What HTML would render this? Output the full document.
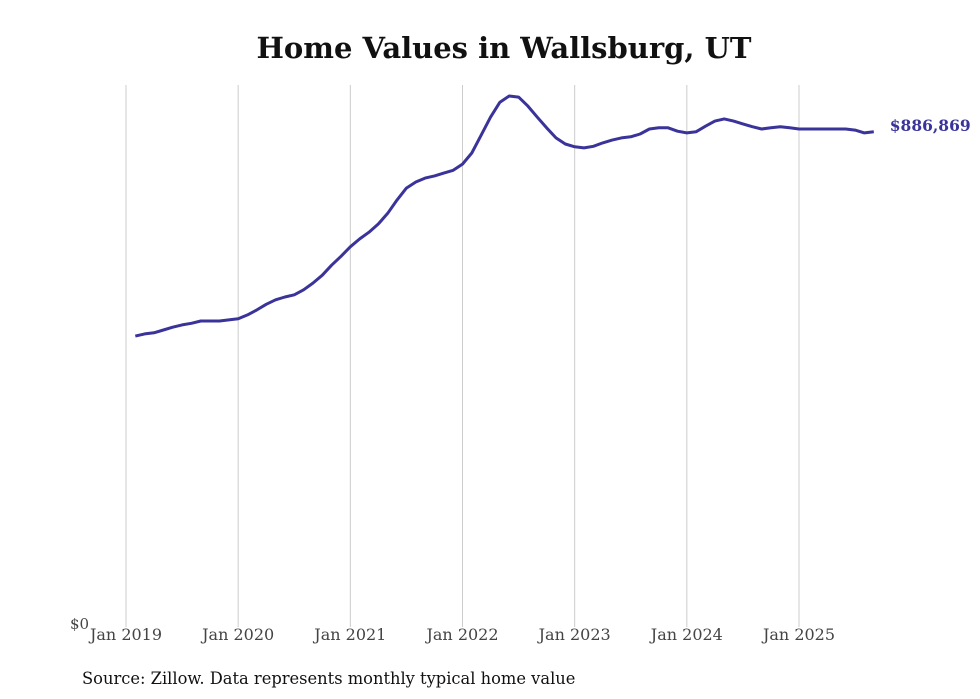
<!DOCTYPE html>
<html><head><meta charset="utf-8"><style>
body{margin:0;background:#fff;}
svg{display:block;font-family:"DejaVu Serif","Liberation Serif",serif;}
</style></head><body>
<svg id="chart" width="980" height="699">
<text x="504" y="58" text-anchor="middle" font-size="29" font-weight="bold" fill="#111">Home Values in Wallsburg, UT</text>
<g id="grid"></g>
<g id="xlabels"></g>
<text x="70" y="629" font-size="15" fill="#444">$0</text>
<path id="line" fill="none" stroke="#3a3399" stroke-width="3" stroke-linejoin="round"/>
<text id="endlabel" font-size="15.5" font-weight="bold" fill="#3a3399"></text>
<text x="82" y="684" font-size="16.3" fill="#111">Source: Zillow. Data represents monthly typical home value</text>
</svg>
<script>
const years = ["Jan 2019","Jan 2020","Jan 2021","Jan 2022","Jan 2023","Jan 2024","Jan 2025"];
const startMonthIndex = 1;
const values = [521000,525000,527000,532000,537000,541000,544000,548000,548000,548000,550000,
552000,559000,568000,578000,586000,591000,595000,604000,616000,630000,648000,664000,
681000,695000,707000,722000,741000,765000,786000,797000,804000,808000,813000,818000,
829000,849000,881000,913000,940000,951000,949000,933000,913000,894000,876000,865000,
860000,858000,861000,867000,872000,876000,878000,883000,892000,894000,894000,888000,
885000,887000,897000,906000,910000,906000,901000,896000,892000,894000,896000,894000,
892000,892000,892000,892000,892000,892000,890000,885000,886869];
const lastLabel = "$886,869";
function xS(m){return 126 + m*(673/72);}
function yS(v){return 627 - v/1791;}
const ns="http://www.w3.org/2000/svg";
const grid=document.getElementById('grid'), xl=document.getElementById('xlabels');
years.forEach((y,i)=>{
  const x=xS(i*12);
  const l=document.createElementNS(ns,'line');
  l.setAttribute('x1',x);l.setAttribute('x2',x);l.setAttribute('y1',85);l.setAttribute('y2',627);
  l.setAttribute('stroke','#ccc');l.setAttribute('stroke-width','1');
  
  
  grid.appendChild(l);
  const t=document.createElementNS(ns,'text');
  t.setAttribute('x',x);t.setAttribute('y',640);t.setAttribute('text-anchor','middle');
  t.setAttribute('font-size','16');t.setAttribute('fill','#444');t.textContent=y;
  
  
  xl.appendChild(t);
});
let d="";
values.forEach((v,i)=>{d+=(i?"L":"M")+xS(i+startMonthIndex).toFixed(1)+","+yS(v).toFixed(1);});
document.getElementById('line').setAttribute('d',d);
const n=values.length-1, el=document.getElementById('endlabel');
el.setAttribute('x',xS(n+startMonthIndex)+16);el.setAttribute('y',yS(values[n])-1);el.textContent=lastLabel;
</script>
</body></html>
